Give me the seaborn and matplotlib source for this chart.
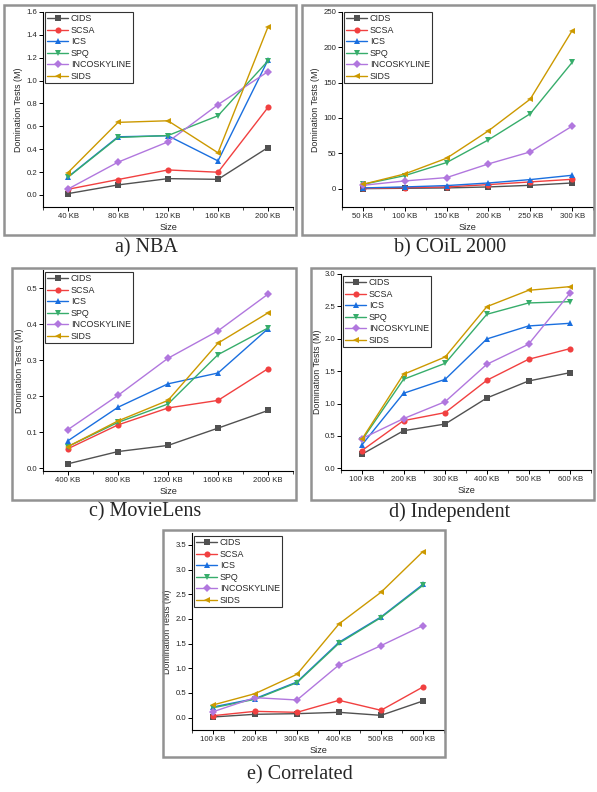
import matplotlib

matplotlib.use("Agg")
import matplotlib.pyplot as plt
import pandas as pd
import seaborn as sns
from matplotlib.patches import Rectangle
from matplotlib.ticker import FixedLocator

# 算法名称与颜色、标记
ALGS = ["CIDS", "SCSA", "ICS", "SPQ", "INCOSKYLINE", "SIDS"]
COLORS = ["#515151", "#F14040", "#1A6FDF", "#37AD6B", "#B177DE", "#CC9900"]
MARKERS = ["s", "o", "^", "v", "D", "<"]

# a) NBA
NBA_SIZES = ["40 KB", "80 KB", "120 KB", "160 KB", "200 KB"]
NBA_CIDS = [0.012, 0.088, 0.143, 0.137, 0.415]
NBA_SCSA = [0.050, 0.135, 0.219, 0.199, 0.766]
NBA_ICS = [0.158, 0.509, 0.518, 0.298, 1.180]
NBA_SPQ = [0.155, 0.503, 0.520, 0.693, 1.173]
NBA_INCO = [0.052, 0.287, 0.465, 0.790, 1.079]
NBA_SIDS = [0.196, 0.635, 0.649, 0.369, 1.470]

# b) COiL 2000
COIL_SIZES = ["50 KB", "100 KB", "150 KB", "200 KB", "250 KB", "300 KB"]
COIL_CIDS = [0.0, 0.5, 1.0, 2.4, 4.7, 8.0]
COIL_SCSA = [0.3, 1.4, 2.4, 5.7, 9.5, 13.2]
COIL_ICS = [1.0, 2.4, 4.3, 8.0, 12.8, 18.9]
COIL_SPQ = [6.0, 18.4, 36.9, 69.0, 106.0, 178.6]
COIL_INCO = [4.7, 10.9, 15.6, 35.0, 52.0, 88.4]
COIL_SIDS = [6.1, 20.8, 43.0, 81.8, 126.7, 223.5]

# c) MovieLens
MOVIE_SIZES = ["400 KB", "800 KB", "1200 KB", "1600 KB", "2000 KB"]
MOVIE_CIDS = [0.012, 0.046, 0.063, 0.111, 0.160]
MOVIE_SCSA = [0.054, 0.120, 0.167, 0.188, 0.276]
MOVIE_ICS = [0.076, 0.169, 0.234, 0.264, 0.387]
MOVIE_SPQ = [0.060, 0.127, 0.178, 0.315, 0.389]
MOVIE_INCO = [0.107, 0.202, 0.305, 0.381, 0.483]
MOVIE_SIDS = [0.060, 0.131, 0.188, 0.347, 0.431]

# d) Independent
IND_SIZES = ["100 KB", "200 KB", "300 KB", "400 KB", "500 KB", "600 KB"]
IND_CIDS = [0.216, 0.580, 0.684, 1.086, 1.348, 1.477]
IND_SCSA = [0.273, 0.736, 0.860, 1.359, 1.683, 1.848]
IND_ICS = [0.360, 1.158, 1.374, 1.997, 2.198, 2.239]
IND_SPQ = [0.432, 1.374, 1.621, 2.378, 2.553, 2.573]
IND_INCO = [0.458, 0.767, 1.029, 1.606, 1.915, 2.707]
IND_SIDS = [0.448, 1.451, 1.719, 2.496, 2.748, 2.805]

# e) Correlated
COR_SIZES = ["100 KB", "200 KB", "300 KB", "400 KB", "500 KB", "600 KB"]
COR_CIDS = [0.014, 0.068, 0.081, 0.108, 0.047, 0.338]
COR_SCSA = [0.040, 0.128, 0.108, 0.351, 0.149, 0.622]
COR_ICS = [0.216, 0.385, 0.723, 1.527, 2.040, 2.700]
COR_SPQ = [0.200, 0.372, 0.709, 1.507, 2.027, 2.680]
COR_INCO = [0.120, 0.405, 0.358, 1.068, 1.459, 1.865]
COR_SIDS = [0.257, 0.486, 0.878, 1.899, 2.540, 3.365]

W, H = 597, 792


def px_rect(left, top, right, bottom):
    """像素坐标 -> figure 坐标"""
    return [left / W, 1 - bottom / H, (right - left) / W, (bottom - top) / H]


def build_df(sizes, series):
    rows = []
    for alg, vals in zip(ALGS, series):
        for i, (s, v) in enumerate(zip(sizes, vals)):
            rows.append({"alg": alg, "pos": i, "size": s, "val": v})
    return pd.DataFrame(rows)


def draw_panel(fig, sizes, series, ax_box, frame_box, ylim, yticks, yfmt,
               caption, cap_xy, legend_anchor):
    # 灰色外框
    l, t, r, b = frame_box
    fig.patches.append(Rectangle((l / W, 1 - b / H), (r - l) / W, (b - t) / H,
                                 transform=fig.transFigure, fill=False,
                                 edgecolor="#929292", linewidth=1.8))

    ax = fig.add_axes(px_rect(*ax_box))
    df = build_df(sizes, series)
    for alg, color, marker in zip(ALGS, COLORS, MARKERS):
        sub = df[df["alg"] == alg]
        ms = 3.6 if marker == "D" else 4.4
        sns.lineplot(data=sub, x="pos", y="val", color=color, marker=marker,
                     markersize=ms, markeredgewidth=0, linewidth=1.0,
                     label=alg, errorbar=None, ax=ax)

    ax.set_xlim(-0.5, len(sizes) - 0.5)
    ax.set_ylim(*ylim)
    ax.set_xticks(range(len(sizes)))
    ax.set_xticklabels(sizes)
    ax.xaxis.set_minor_locator(FixedLocator([i + 0.5 for i in range(-1, len(sizes))]))
    ax.set_yticks(yticks)
    ax.set_yticklabels([yfmt.format(v) for v in yticks])
    ax.tick_params(axis="both", which="major", direction="out", length=2.8,
                   width=0.7, labelsize=5.6, pad=1.5, color="black")
    ax.tick_params(axis="x", which="minor", direction="out", length=1.8, width=0.6)
    for side in ["top", "right"]:
        ax.spines[side].set_visible(False)
    for side in ["left", "bottom"]:
        ax.spines[side].set_color("black")
        ax.spines[side].set_linewidth(0.8)

    ax.set_xlabel("Size", fontsize=6.6, labelpad=2)
    ax.set_ylabel("Domination Tests (M)", fontsize=6.4, labelpad=2)

    leg = ax.legend(loc="upper left", bbox_to_anchor=legend_anchor, fontsize=6.4,
                    frameon=True, fancybox=False, edgecolor="black",
                    borderpad=0.25, labelspacing=0.28, handlelength=2.4,
                    handletextpad=0.3, borderaxespad=0.0)
    leg.get_frame().set_linewidth(0.8)

    fig.text(cap_xy[0] / W, 1 - cap_xy[1] / H, caption, ha="center", va="center",
             fontsize=14.5, family=["Liberation Serif", "DejaVu Serif"])
    return ax


def main():
    sns.set_theme(style="ticks")
    plt.rcParams["font.family"] = ["Liberation Sans", "DejaVu Sans"]

    fig = plt.figure(figsize=(W / 100, H / 100), dpi=100)

    draw_panel(fig, NBA_SIZES,
               [NBA_CIDS, NBA_SCSA, NBA_ICS, NBA_SPQ, NBA_INCO, NBA_SIDS],
               (43, 12, 293, 207), (4, 5, 296, 235), (-0.105, 1.6),
               [0.0, 0.2, 0.4, 0.6, 0.8, 1.0, 1.2, 1.4, 1.6], "{:.1f}",
               "a) NBA", (146, 248), (0.007, 1.0))

    draw_panel(fig, COIL_SIZES,
               [COIL_CIDS, COIL_SCSA, COIL_ICS, COIL_SPQ, COIL_INCO, COIL_SIDS],
               (342, 12, 593, 207), (302, 5, 594, 235), (-26, 250),
               [0, 50, 100, 150, 200, 250], "{:.0f}",
               "b) COiL 2000", (450, 248), (0.007, 1.0))

    draw_panel(fig, MOVIE_SIZES,
               [MOVIE_CIDS, MOVIE_SCSA, MOVIE_ICS, MOVIE_SPQ, MOVIE_INCO, MOVIE_SIDS],
               (43, 270, 293, 471), (12, 268, 296, 500), (-0.008, 0.55),
               [0.0, 0.1, 0.2, 0.3, 0.4, 0.5], "{:.1f}",
               "c) MovieLens", (145, 512), (0.007, 0.99))

    draw_panel(fig, IND_SIZES,
               [IND_CIDS, IND_SCSA, IND_ICS, IND_SPQ, IND_INCO, IND_SIDS],
               (341, 274, 591, 470), (311, 268, 594, 500), (-0.026, 3.0),
               [0.0, 0.5, 1.0, 1.5, 2.0, 2.5, 3.0], "{:.1f}",
               "d) Independent", (450, 512), (0.007, 0.99))

    draw_panel(fig, COR_SIZES,
               [COR_CIDS, COR_SCSA, COR_ICS, COR_SPQ, COR_INCO, COR_SIDS],
               (192, 533, 444, 730), (163, 530, 445, 757), (-0.25, 3.74),
               [0.0, 0.5, 1.0, 1.5, 2.0, 2.5, 3.0, 3.5], "{:.1f}",
               "e) Correlated", (300, 775), (0.007, 0.985))

    fig.savefig("out.png", dpi=100)
    plt.close(fig)


if __name__ == "__main__":
    main()
